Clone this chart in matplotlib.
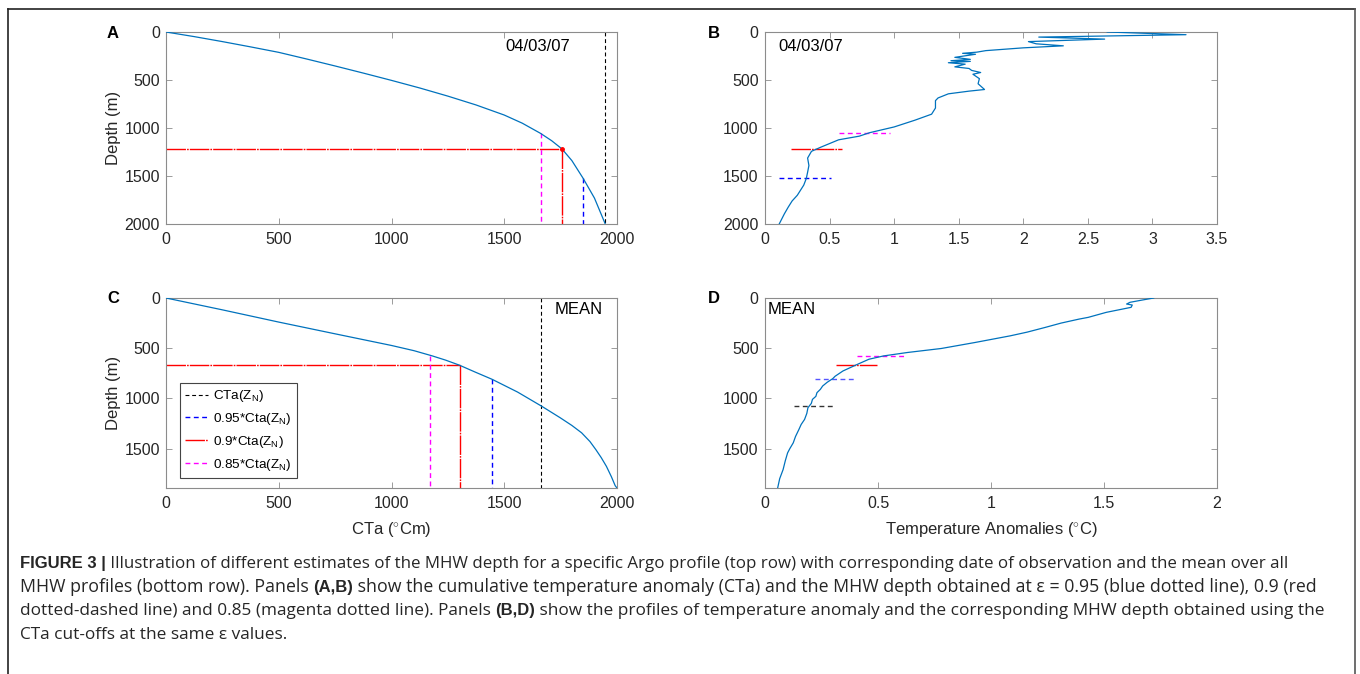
import matplotlib
matplotlib.use('Agg')
import matplotlib.pyplot as plt
from matplotlib.lines import Line2D

plt.rcParams['font.family'] = ['Liberation Sans', 'DejaVu Sans']
plt.rcParams['mathtext.fontset'] = 'custom'
plt.rcParams['mathtext.rm'] = 'Liberation Sans'
plt.rcParams['mathtext.it'] = 'Liberation Sans:italic'
plt.rcParams['mathtext.bf'] = 'Liberation Sans:bold'

# ---------------- data ----------------
# Panel A: cumulative temperature anomaly, single profile 04/03/07
A_cta = [0, 125, 250, 375, 500, 625, 750, 875, 1000, 1125, 1250, 1375, 1500, 1580, 1661,
         1710, 1756, 1800, 1850, 1900, 1948]
A_depth = [0, 48, 100, 155, 212, 282, 354, 428, 504, 583, 668, 760, 865, 950, 1056,
           1132, 1218, 1340, 1525, 1730, 2000]
A_full = 1948
A_eps_cta = [1850, 1756, 1661]          # 0.95, 0.90, 0.85
A_eps_depth = [1525, 1218, 1056]

# Panel B: temperature anomaly profile 04/03/07
B_depth = [0, 28, 53, 74, 100, 123, 144, 165, 194, 210, 222, 232, 264, 285, 299, 306, 320, 335,
           363, 380, 400, 422, 440, 486, 539, 599, 616, 644, 687, 715, 792, 856, 919, 989,
           1049, 1085, 1123, 1201, 1243, 1313, 1391, 1460, 1525, 1595, 1701, 1760, 1824, 1894, 2000]
B_anom = [2.65, 3.26, 2.12, 2.63, 2.04, 2.10, 2.31, 2.00, 1.71, 1.64, 1.53, 1.63, 1.47, 1.59, 1.44,
          1.59, 1.42, 1.55, 1.47, 1.58, 1.60, 1.67, 1.61, 1.66, 1.65, 1.70, 1.58, 1.42, 1.34, 1.32,
          1.32, 1.29, 1.16, 1.00, 0.81, 0.73, 0.57, 0.43, 0.36, 0.33, 0.34, 0.33, 0.32, 0.30, 0.25,
          0.21, 0.18, 0.15, 0.11]
B_eps_depth = [1525, 1218, 1056]
B_eps_x0 = [0.11, 0.20, 0.57]
B_eps_x1 = [0.51, 0.60, 0.97]

# Panel C: mean cumulative temperature anomaly
C_cta = [0, 250, 500, 750, 1000, 1100, 1181, 1240, 1302, 1370, 1446, 1559, 1665, 1748, 1800,
         1843, 1880, 1906, 1930, 1953, 1975, 1992, 2000]
C_depth = [0, 118, 240, 357, 473, 525, 577, 619, 670, 737, 810, 937, 1077, 1193, 1270,
           1343, 1430, 1510, 1590, 1677, 1780, 1870, 1893]
C_full = 1665
C_eps_cta = [1446, 1302, 1170]
C_eps_depth = [810, 670, 577]

# Panel D: mean temperature anomaly profile
D_depth = [0, 20, 43, 60, 70, 93, 143, 193, 210, 250, 293, 340, 377, 443, 503, 543, 577, 610, 640,
           670, 727, 780, 803, 840, 877, 910, 943, 980, 1010, 1050, 1093, 1150, 1210, 1260, 1310,
           1380, 1443, 1500, 1543, 1620, 1710, 1800, 1893]
D_anom = [1.72, 1.67, 1.615, 1.60, 1.625, 1.62, 1.51, 1.43, 1.39, 1.31, 1.24, 1.16, 1.085, 0.93,
          0.78, 0.63, 0.525, 0.46, 0.43, 0.40, 0.345, 0.31, 0.30, 0.275, 0.255, 0.245, 0.23, 0.225,
          0.21, 0.205, 0.19, 0.185, 0.175, 0.16, 0.15, 0.135, 0.125, 0.11, 0.10, 0.09, 0.08, 0.065, 0.056]
D_eps_depth = [1080, 803, 670, 577]      # Z_N, 0.95, 0.90, 0.85
D_eps_x0 = [0.127, 0.222, 0.316, 0.408]
D_eps_x1 = [0.303, 0.396, 0.495, 0.628]

cta_ticks = [0, 500, 1000, 1500, 2000]
depth_ticks_top = [0, 500, 1000, 1500, 2000]
depth_ticks_bot = [0, 500, 1000, 1500]
B_xticks = [0, 0.5, 1, 1.5, 2, 2.5, 3, 3.5]
B_xticklabels = ['0', '0.5', '1', '1.5', '2', '2.5', '3', '3.5']
D_xticks = [0, 0.5, 1, 1.5, 2]
D_xticklabels = ['0', '0.5', '1', '1.5', '2']
legend_labels = [r'CTa(Z$_{\rm N}$)', r'0.95*Cta(Z$_{\rm N}$)', r'0.9*Cta(Z$_{\rm N}$)', r'0.85*Cta(Z$_{\rm N}$)']

# ---------------- styles ----------------
W, H = 1360, 674
fig = plt.figure(figsize=(W / 100, H / 100), dpi=100)
fig.patch.set_facecolor('white')

LINE = '#0072BD'
SPINE = '#8c8c8c'
TXT = '#262626'
DASH = (0, (3.5, 2.5))
DASHDOT = (0, (14, 0.8, 1.2, 0.8))
col_eps = ['#0000FF', '#FF0000', '#FF00FF']
ls_eps = [DASH, DASHDOT, DASH]
LW = 1.0


def rect(x0, y0, x1, y1):
    return [x0 / W, 1 - y1 / H, (x1 - x0) / W, (y1 - y0) / H]


def style(ax, xlim, ylim, xticks, yticks, xticklabels=None):
    ax.set_xlim(*xlim)
    ax.set_ylim(ylim[1], ylim[0])
    ax.set_xticks(xticks)
    if xticklabels is not None:
        ax.set_xticklabels(xticklabels)
    ax.set_yticks(yticks)
    ax.tick_params(direction='in', top=True, right=True, length=4, width=0.6,
                   color=SPINE, labelsize=11.5, labelcolor=TXT)
    ax.tick_params(axis='x', pad=5.5)
    ax.tick_params(axis='y', pad=4.5)
    for s in ax.spines.values():
        s.set_color(SPINE)
        s.set_linewidth(0.8)


axA = fig.add_axes(rect(166, 32, 617, 224))
axB = fig.add_axes(rect(765, 32, 1217, 224))
axC = fig.add_axes(rect(166, 298, 617, 488))
axD = fig.add_axes(rect(765, 298, 1217, 488))

# ---- Panel A ----
axA.plot(A_cta, A_depth, color=LINE, lw=0.9, zorder=3)
axA.plot([A_full, A_full], [0, 2000], color='k', lw=0.8, ls=DASH)
for c, z, col, ls, k in zip(A_eps_cta, A_eps_depth, col_eps, ls_eps, range(3)):
    axA.plot([c, c], [z, 2000], color=col, lw=LW, ls=ls)
    if k == 1:
        axA.plot([0, c], [z, z], color=col, lw=LW, ls=ls)
        axA.plot([c], [z], marker='o', ms=2.5, color=col, zorder=4)
style(axA, (0, 2000), (0, 2000), cta_ticks, depth_ticks_top)
axA.set_ylabel('Depth (m)', fontsize=12, color=TXT)
axA.yaxis.set_label_coords(-0.10, 0.5)
axA.text(0.752, 0.922, '04/03/07', transform=axA.transAxes, fontsize=12, va='center', ha='left', color='k')

# ---- Panel B ----
axB.plot(B_anom, B_depth, color=LINE, lw=0.9, zorder=3)
for z, x0, x1, col, ls in zip(B_eps_depth, B_eps_x0, B_eps_x1, col_eps, ls_eps):
    axB.plot([x0, x1], [z, z], color=col, lw=LW, ls=ls)
style(axB, (0, 3.5), (0, 2000), B_xticks, depth_ticks_top, B_xticklabels)
axB.text(0.029, 0.922, '04/03/07', transform=axB.transAxes, fontsize=12, va='center', ha='left', color='k')

# ---- Panel C ----
axC.plot(C_cta, C_depth, color=LINE, lw=0.9, zorder=3)
hN, = axC.plot([C_full, C_full], [0, 1893], color='k', lw=0.8, ls=DASH)
handles = [hN]
for c, z, col, ls, k in zip(C_eps_cta, C_eps_depth, col_eps, ls_eps, range(3)):
    h, = axC.plot([c, c], [z, 1893], color=col, lw=LW, ls=ls)
    if k == 1:
        axC.plot([0, c], [z, z], color=col, lw=LW, ls=ls)
    handles.append(h)
style(axC, (0, 2000), (0, 1893), cta_ticks, depth_ticks_bot)
axC.set_ylabel('Depth (m)', fontsize=12, color=TXT)
axC.yaxis.set_label_coords(-0.10, 0.5)
axC.set_xlabel(r'CTa ($^{\circ}$Cm)', fontsize=12, color=TXT)
axC.xaxis.set_label_coords(0.5, -0.17)
axC.text(0.862, 0.942, 'MEAN', transform=axC.transAxes, fontsize=12, va='center', ha='left', color='k')
leg = axC.legend(handles, legend_labels, loc='lower left', bbox_to_anchor=(0.031, 0.053),
                 borderaxespad=0, fontsize=9.7, handlelength=1.7, handletextpad=0.35,
                 labelspacing=0.5, borderpad=0.4, fancybox=False, framealpha=1,
                 edgecolor='#444444')
leg.get_frame().set_linewidth(0.8)

# ---- Panel D ----
axD.plot(D_anom, D_depth, color=LINE, lw=0.9, zorder=3)
d_cols = ['#333333', '#5555FF', '#FF0000', '#FF00FF']
d_ls = [DASH, DASH, DASHDOT, DASH]
for z, x0, x1, col, ls in zip(D_eps_depth, D_eps_x0, D_eps_x1, d_cols, d_ls):
    axD.plot([x0, x1], [z, z], color=col, lw=LW, ls=ls)
style(axD, (0, 2), (0, 1893), D_xticks, depth_ticks_bot, D_xticklabels)
axD.set_xlabel(r'Temperature Anomalies ($^{\circ}$C)', fontsize=12, color=TXT)
axD.xaxis.set_label_coords(0.5, -0.17)
axD.text(0.005, 0.942, 'MEAN', transform=axD.transAxes, fontsize=12, va='center', ha='left', color='k')

# ---- panel letters ----
for lab, x, y in [('A', 113, 33), ('B', 714, 33), ('C', 113, 298), ('D', 714, 298)]:
    fig.text(x / W, 1 - y / H, lab, fontsize=12, fontweight='bold', ha='center', va='center')

# ---- border ----
bc = '#222222'
fig.add_artist(Line2D([8 / W, 8 / W], [0, 1 - 9 / H], transform=fig.transFigure, color=bc, lw=1.2))
fig.add_artist(Line2D([8 / W, 1355 / W], [1 - 9 / H, 1 - 9 / H], transform=fig.transFigure, color=bc, lw=1.2))
fig.add_artist(Line2D([1355 / W, 1355 / W], [0, 1 - 9 / H], transform=fig.transFigure, color='#555555', lw=1.2))

# ---- caption ----
renderer = fig.canvas.get_renderer()
cap_lines = [
    [("FIGURE 3 |", 'bold'), (" Illustration of different estimates of the MHW depth for a specific Argo profile (top row) with corresponding date of observation and the mean over all", 'normal')],
    [("MHW profiles (bottom row). Panels ", 'normal'), ("(A,B)", 'bold'), (" show the cumulative temperature anomaly (CTa) and the MHW depth obtained at \u03b5 = 0.95 (blue dotted line), 0.9 (red", 'normal')],
    [("dotted-dashed line) and 0.85 (magenta dotted line). Panels ", 'normal'), ("(B,D)", 'bold'), (" show the profiles of temperature anomaly and the corresponding MHW depth obtained using the", 'normal')],
    [("CTa cut-offs at the same \u03b5 values.", 'normal')],
]
cap_y = [568, 592, 615, 639]
cap_end = [1292, 1326, 1324, None]
BODY_FONT = ['Open Sans', 'Liberation Sans', 'DejaVu Sans']
BOLD_FONT = ['Liberation Sans', 'DejaVu Sans']
BOLD_SIZE = 12.0
X_START = 20


def seg_text(x, y, txt, wt, size):
    fam = BOLD_FONT if wt == 'bold' else BODY_FONT
    sz = BOLD_SIZE if wt == 'bold' else size
    return fig.text(x / W, 1 - y / H, txt, fontsize=sz, fontweight=wt, family=fam,
                    ha='left', va='baseline', color=TXT)


def widths(segs, size):
    bold, body = 0, 0
    for txt, wt in segs:
        t = seg_text(0, 0, txt, wt, size)
        w = t.get_window_extent(renderer).width
        t.remove()
        if wt == 'bold':
            bold += w
        else:
            body += w
    return bold, body


base = 10.5
sizes = []
for segs, end in zip(cap_lines, cap_end):
    if end is None:
        sizes.append(sum(sizes) / len(sizes))
        continue
    bw, nw = widths(segs, base)
    sizes.append(base * (end - X_START - bw) / nw)

for segs, y, sz in zip(cap_lines, cap_y, sizes):
    x = X_START
    for txt, wt in segs:
        t = seg_text(x, y, txt, wt, sz)
        x += t.get_window_extent(renderer).width

fig.savefig('out.png', dpi=100)
